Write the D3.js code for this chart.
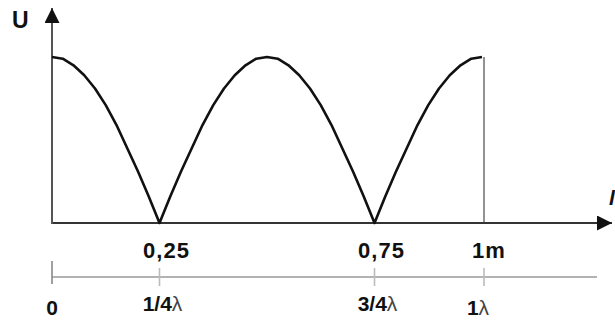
<!DOCTYPE html>
<html>
<head>
<meta charset="utf-8">
<script src="https://cdn.jsdelivr.net/npm/d3@7"></script>
<style>
  html, body { margin: 0; padding: 0; background: #fff; }
  svg { display: block; }
  text { font-family: "Liberation Sans", Arial, sans-serif; fill: #111; }
</style>
</head>
<body>
<svg id="chart" width="615" height="322"></svg>
<script>
// Position along the line (m) and voltage amplitude U (relative)
const positions = [0, 0.025, 0.05, 0.075, 0.1, 0.125, 0.15, 0.175, 0.2, 0.225, 0.25,
                   0.275, 0.3, 0.325, 0.35, 0.375, 0.4, 0.425, 0.45, 0.475, 0.5,
                   0.525, 0.55, 0.575, 0.6, 0.625, 0.65, 0.675, 0.7, 0.725, 0.75,
                   0.775, 0.8, 0.825, 0.85, 0.875, 0.9, 0.925, 0.95, 0.975, 1];
const voltage = [1.00, 0.99, 0.95, 0.89, 0.81, 0.71, 0.59, 0.45, 0.31, 0.16, 0,
                 0.16, 0.31, 0.45, 0.59, 0.71, 0.81, 0.89, 0.95, 0.99, 1.00,
                 0.99, 0.95, 0.89, 0.81, 0.71, 0.59, 0.45, 0.31, 0.16, 0,
                 0.16, 0.31, 0.45, 0.59, 0.71, 0.81, 0.89, 0.95, 0.99, 1.00];

// Upper axis ticks (metres)
const meterTicks = [0.25, 0.75, 1];
const meterLabels = ["0,25", "0,75", "1m"];

// Lower axis ticks (wavelength fractions)
const lambdaTicks = [0, 0.25, 0.75, 1];
const lambdaNums = ["0", "1/4", "3/4", "1"];

const svg = d3.select("#chart");

const x = d3.scaleLinear().domain([0, 1]).range([52, 482]);
const y = d3.scaleLinear().domain([0, 1]).range([223, 57]);

const axisY = y(0);
const xEnd = 612;

// arrowheads
const defs = svg.append("defs");
defs.append("marker")
  .attr("id", "arrow")
  .attr("viewBox", "0 0 10 10")
  .attr("refX", 10).attr("refY", 5)
  .attr("markerUnits", "userSpaceOnUse")
  .attr("markerWidth", 19).attr("markerHeight", 15)
  .attr("orient", "auto")
  .append("path")
  .attr("d", "M0,0 L10,5 L0,10 Z")
  .attr("fill", "#111");

// vertical line at the end of the line (1 m)
svg.append("line")
  .attr("x1", x(1) + 2).attr("x2", x(1) + 2)
  .attr("y1", y(1)).attr("y2", axisY)
  .attr("stroke", "#777").attr("stroke-width", 1.6);

// x axis with arrow
svg.append("line")
  .attr("x1", x(0)).attr("x2", xEnd)
  .attr("y1", axisY).attr("y2", axisY)
  .attr("stroke", "#333").attr("stroke-width", 2.2)
  .attr("marker-end", "url(#arrow)");

// y axis with arrow
svg.append("line")
  .attr("x1", x(0)).attr("x2", x(0))
  .attr("y1", axisY + 1).attr("y2", 8)
  .attr("stroke", "#555").attr("stroke-width", 2)
  .attr("marker-end", "url(#arrow)");

// axis names
svg.append("text")
  .attr("x", 12).attr("y", 28)
  .attr("font-size", 23).attr("font-weight", "bold")
  .text("U");
svg.append("text")
  .attr("x", 609).attr("y", 205)
  .attr("font-size", 21).attr("font-weight", "bold").attr("font-style", "italic")
  .text("l");

// voltage curve
const pts = positions.map((p, i) => [p, voltage[i]]);
svg.append("path")
  .datum(pts)
  .attr("fill", "none")
  .attr("stroke", "#111")
  .attr("stroke-width", 2.6)
  .attr("stroke-linejoin", "round")
  .attr("d", d3.line().x(d => x(d[0])).y(d => y(d[1])).curve(d3.curveLinear));

// metre labels under the x axis
svg.selectAll("text.m")
  .data(meterTicks)
  .join("text")
  .attr("class", "m")
  .attr("x", d => x(d) + 7)
  .attr("y", 258)
  .attr("text-anchor", "middle")
  .attr("font-size", 22).attr("font-weight", "bold")
  .attr("letter-spacing", 1)
  .text((d, i) => meterLabels[i]);

// wavelength scale
const lamY = 277;
svg.append("line")
  .attr("x1", x(0)).attr("x2", 597)
  .attr("y1", lamY).attr("y2", lamY)
  .attr("stroke", "#999").attr("stroke-width", 1.6);

svg.selectAll("line.lt")
  .data(lambdaTicks)
  .join("line")
  .attr("class", "lt")
  .attr("x1", d => x(d) + (d === 1 ? 2 : 0))
  .attr("x2", d => x(d) + (d === 1 ? 2 : 0))
  .attr("y1", d => d === 0 ? 261 : 268)
  .attr("y2", d => d === 0 ? 284 : 286)
  .attr("stroke", d => d === 0 ? "#888" : "#bbb")
  .attr("stroke-width", 1.6);

const lam = svg.selectAll("text.l")
  .data(lambdaTicks)
  .join("text")
  .attr("class", "l")
  .attr("x", (d, i) => x(d) + (i === 0 ? 0 : i === 3 ? -4 : 3))
  .attr("y", (d, i) => i === 0 || i === 3 ? 315 : 311)
  .attr("text-anchor", "middle")
  .attr("font-size", 21);

lam.append("tspan")
  .attr("font-weight", "bold")
  .text((d, i) => lambdaNums[i]);
lam.filter(d => d !== 0).append("tspan")
  .attr("font-weight", "normal")
  .attr("fill", "#444")
  .text("λ");
</script>
</body>
</html>
